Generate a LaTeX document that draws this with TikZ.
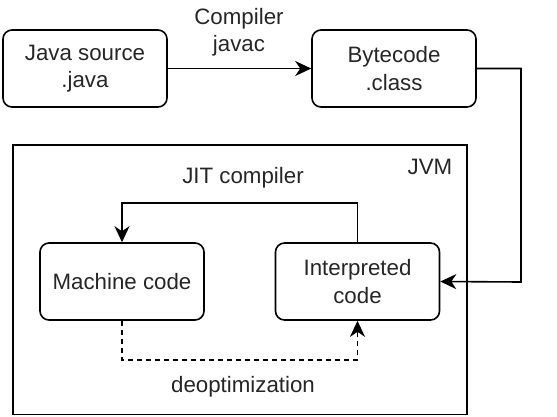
\documentclass[tikz,border=0pt]{standalone}
\usepackage{fontspec}
\setmainfont{Liberation Sans}
\usetikzlibrary{arrows.meta}
\begin{document}
\begin{tikzpicture}[x=1pt,y=-1pt,
  every node/.style={font=\fontsize{22.3}{27.5}\selectfont, text=black!85},
  box/.style={draw, line width=1.6pt, rounded corners=9pt, minimum width=164pt, minimum height=77pt, align=center, inner sep=0pt},
  lbl/.style={align=center, inner sep=0pt},
  conn/.style={line width=1.6pt, -{Stealth[length=16pt,width=15pt,inset=5pt]}}
]
\useasboundingbox (0,0) rectangle (557,416);
\node[box] (java) at (85,68.5) {Java source\\.java};
\node[box] (byte) at (394,68.5) {Bytecode\\.class};
\node[lbl] (comp) at (239,32) {Compiler\\javac};
\draw[line width=1.6pt] (13,145) rectangle (467,414.5);
\node[lbl] (jvm) at (430,167) {JVM};
\node[lbl] (jit) at (243,178) {JIT compiler};
\node[box] (mach) at (122,281.5) {Machine code};
\node[box] (interp) at (357.5,281.5) {Interpreted\\code};
\node[lbl] (deopt) at (243,387) {deoptimization};
\coordinate (r1) at (521,68.5);
\coordinate (r2) at (521,282);
\draw[conn] (java) -- (byte);
\draw[conn] (byte.east) -- (r1) -- (r2) -- (interp.east);
\draw[conn] (interp.north) -- ++(0,-39) -| (mach.north);
\draw[conn, dashed, dash pattern=on 5pt off 4pt] (mach.south) -- ++(0,39) -| (interp.south);
\end{tikzpicture}
\end{document}
